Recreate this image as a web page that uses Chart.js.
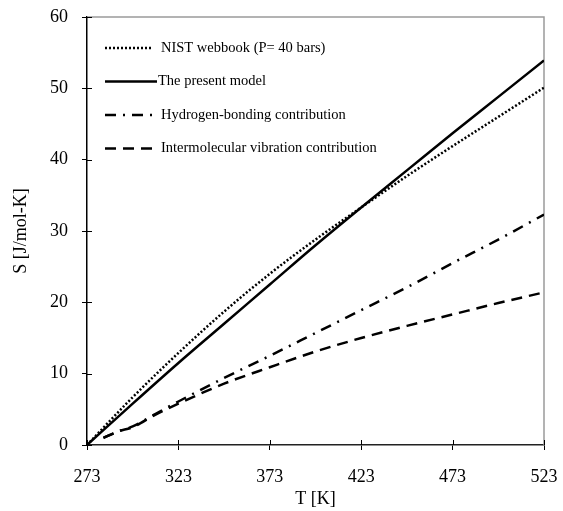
<!DOCTYPE html>
<html>
<head>
<meta charset="utf-8">
<script src="https://cdn.jsdelivr.net/npm/chart.js@4.4.0/dist/chart.umd.min.js"></script>
<style>
    body { margin: 0; background: #fff; }
</style>
</head>
<body>
<canvas id="entropy-chart" width="563" height="511"></canvas>
<script>
const temps = [273, 298, 323, 348, 373, 398, 423, 448, 473, 498, 523];
const nistValues = [0, 6.7, 12.9, 18.7, 24.0, 28.8, 33.3, 37.7, 41.9, 46.0, 50.1];
const modelValues = [0, 5.8, 11.5, 17.0, 22.5, 28.0, 33.3, 38.5, 43.7, 48.8, 53.9];

const contribTemps = [282, 290, 298, 310, 323, 348, 373, 398, 423, 448, 473, 498, 523];
const hbondValues = [1.0, 1.9, 2.6, 4.3, 6.1, 9.4, 12.5, 15.7, 18.9, 22.1, 25.5, 28.8, 32.3];
const vibValues = [1.0, 1.9, 2.5, 4.2, 5.8, 8.6, 10.9, 13.1, 15.0, 16.7, 18.3, 19.9, 21.4];

const xTicks = [273, 323, 373, 423, 473, 523];
const yTicks = [0, 10, 20, 30, 40, 50, 60];

const seriesNames = [
    'NIST webbook (P= 40 bars)',
    'The present model',
    'Hydrogen-bonding contribution',
    'Intermolecular vibration contribution'
];

function toPoints(xs, ys){
    return xs.map((x, i) => ({x: x, y: ys[i]}));
}

const serif = 'Liberation Serif, Times New Roman, serif';

// frame: gray top/right border + inner half of the crossing ticks
const framePlugin = {
    id: 'frame',
    beforeDatasetsDraw(chart){
        const ctx = chart.ctx;
        const a = chart.chartArea;
        ctx.save();
        ctx.strokeStyle = '#9a9a9a';
        ctx.lineWidth = 1.5;
        ctx.beginPath();
        ctx.moveTo(a.left, a.top);
        ctx.lineTo(a.right, a.top);
        ctx.lineTo(a.right, a.bottom);
        ctx.stroke();

        ctx.strokeStyle = '#000';
        ctx.lineWidth = 1;
        const xs = chart.scales.x;
        const ys = chart.scales.y;
        xTicks.forEach(t => {
            const px = Math.round(xs.getPixelForValue(t)) + 0.5;
            ctx.beginPath();
            ctx.moveTo(px, a.bottom);
            ctx.lineTo(px, a.bottom - 5);
            ctx.stroke();
        });
        yTicks.forEach(t => {
            const py = Math.round(ys.getPixelForValue(t)) + 0.5;
            ctx.beginPath();
            ctx.moveTo(a.left, py);
            ctx.lineTo(a.left + 5, py);
            ctx.stroke();
        });
        ctx.restore();
    }
};

// legend drawn inside the plot, upper left
const insideLegend = {
    id: 'insideLegend',
    afterDraw(chart){
        const ctx = chart.ctx;
        const rows = [48, 81.5, 115, 148.5];
        ctx.save();
        chart.data.datasets.forEach((ds, i) => {
            const y = rows[i];
            ctx.strokeStyle = ds.borderColor;
            ctx.lineWidth = ds.borderWidth;
            ctx.setLineDash(ds.borderDash || []);
            ctx.beginPath();
            ctx.moveTo(105, y);
            ctx.lineTo(i == 1 ? 157 : 153, y);
            ctx.stroke();
            ctx.setLineDash([]);
            ctx.fillStyle = '#000';
            ctx.font = '14.5px ' + serif;
            ctx.textBaseline = 'middle';
            ctx.fillText(ds.label, i == 1 ? 158 : 161, y);
        });
        ctx.restore();
    }
};

const entropyData = {
    datasets: [
        {
            label: seriesNames[0],
            data: toPoints(temps, nistValues),
            borderColor: '#000',
            borderWidth: 2.5,
            borderDash: [2, 2]
        },
        {
            label: seriesNames[1],
            data: toPoints(temps, modelValues),
            borderColor: '#000',
            borderWidth: 2.5
        },
        {
            label: seriesNames[2],
            data: toPoints(contribTemps, hbondValues),
            borderColor: '#000',
            borderWidth: 2.5,
            borderDash: [11, 7, 2, 7]
        },
        {
            label: seriesNames[3],
            data: toPoints(contribTemps, vibValues),
            borderColor: '#000',
            borderWidth: 2.5,
            borderDash: [11, 7]
        }
    ]
};

const entropyConfig = {
    type: 'line',
    data: entropyData,
    options: {
        responsive: false,
        animation: false,
        layout: {
            padding: {top: 17, right: 19, left: 0, bottom: 0}
        },
        elements: {
            point: {radius: 0},
            line: {cubicInterpolationMode: 'monotone', fill: false}
        },
        plugins: {
            legend: {display: false},
            tooltip: {enabled: false}
        },
        scales: {
            x: {
                type: 'linear',
                min: 273,
                max: 523,
                afterFit: (scale) => {
                    scale.height = 66;
                    scale.paddingLeft = 0;
                    scale.paddingRight = 0;
                },
                afterBuildTicks: (scale) => { scale.ticks = xTicks.map(v => ({value: v})); },
                grid: {drawOnChartArea: false, drawTicks: true, tickLength: 5, color: '#000'},
                border: {display: true, color: '#222', width: 1.5},
                ticks: {
                    color: '#000',
                    padding: 16,
                    maxRotation: 0,
                    font: {family: serif, size: 18}
                },
                title: {
                    display: true,
                    text: 'T [K]',
                    color: '#000',
                    padding: {top: 0, bottom: 1},
                    font: {family: serif, size: 18}
                }
            },
            y: {
                min: 0,
                max: 60,
                afterFit: (scale) => {
                    scale.width = 87;
                    scale.paddingTop = 0;
                    scale.paddingBottom = 0;
                },
                afterBuildTicks: (scale) => { scale.ticks = yTicks.map(v => ({value: v})); },
                grid: {drawOnChartArea: false, drawTicks: true, tickLength: 5, color: '#000'},
                border: {display: true, color: '#000', width: 1.5},
                ticks: {
                    color: '#000',
                    padding: 14,
                    font: {family: serif, size: 18}
                },
                title: {
                    display: true,
                    text: 'S [J/mol-K]',
                    color: '#000',
                    padding: {top: 10, bottom: 0},
                    font: {family: serif, size: 18}
                }
            }
        }
    },
    plugins: [framePlugin, insideLegend]
};

const entropyChart = new Chart(
    document.getElementById('entropy-chart'),
    entropyConfig
);
</script>
</body>
</html>
